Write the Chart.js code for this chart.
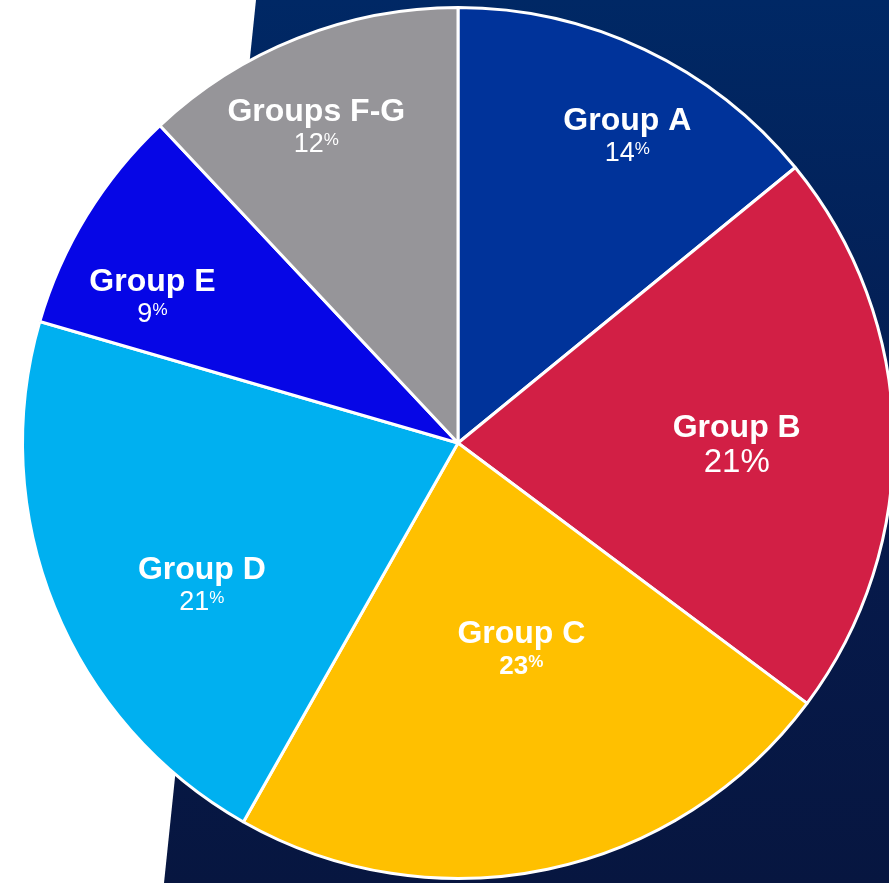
<!DOCTYPE html>
<html>
<head>
<meta charset="utf-8">
<script src="https://cdn.jsdelivr.net/npm/chart.js@4.4.1/dist/chart.umd.min.js"></script>
<style>
  html, body { margin: 0; padding: 0; width: 889px; height: 883px; overflow: hidden; background: #ffffff; }
  #bg {
    position: absolute; left: 0; top: 0; width: 889px; height: 883px;
    background: linear-gradient(to bottom, #002865 0%, #061a4c 60%, #071640 100%);
    clip-path: polygon(256px 0, 889px 0, 889px 883px, 164px 883px);
  }
  #wrap { position: absolute; left: 0; top: 0; width: 916px; height: 886px; }
</style>
</head>
<body>
<div id="bg"></div>
<div id="wrap"><canvas id="pieChart"></canvas></div>
<script>
  // 데이터 (그림에서 읽은 비율, 라벨은 반올림 표시)
  const groups = ["Group A", "Group B", "Group C", "Group D", "Group E", "Groups F-G"];
  const shares = [14.1, 21.1, 23.0, 21.3, 8.5, 12.0];
  const colors = ["#00339a", "#d21f45", "#ffc000", "#00b0f0", "#0606e6", "#969599"];

  // 라벨 위치/스타일 (반지름 비율, 각도 보정, 퍼센트 스타일)
  const labelStyle = [
    { r: 0.81, da: 3.3, size: 27, bold: false, sup: true },
    { r: 0.64, da: 0.8, size: 33, bold: false, sup: false },
    { r: 0.49, da: -5.4, size: 26, bold: true, sup: true },
    { r: 0.67, da: -6.5, size: 27, bold: false, sup: true },
    { r: 0.78, da: -5.6, size: 27, bold: false, sup: true },
    { r: 0.80, da: -2.4, size: 27, bold: false, sup: true }
  ];

  const FONT = "'Liberation Sans', Arial, sans-serif";

  const sliceLabels = {
    id: "sliceLabels",
    afterDatasetsDraw(chart) {
      const ctx = chart.ctx;
      const meta = chart.getDatasetMeta(0);
      meta.data.forEach((arc, i) => {
        const st = labelStyle[i];
        const mid = (arc.startAngle + arc.endAngle) / 2 + st.da * Math.PI / 180;
        const rr = arc.outerRadius * st.r;
        const x = arc.x + Math.cos(mid) * rr;
        const y = arc.y + Math.sin(mid) * rr;
        ctx.save();
        ctx.fillStyle = "#ffffff";
        ctx.textBaseline = "alphabetic";
        // 이름
        ctx.font = "bold 32px " + FONT;
        ctx.textAlign = "center";
        const nameBase = y - 4;
        ctx.fillText(groups[i], x, nameBase);
        // 퍼센트
        const num = String(Math.round(shares[i]));
        const numFont = (st.bold ? "bold " : "") + st.size + "px " + FONT;
        const pBase = nameBase + (st.sup ? 31 : 35);
        ctx.textAlign = "left";
        if (st.sup) {
          const supFont = (st.bold ? "bold " : "") + "17px " + FONT;
          ctx.font = numFont;
          const w1 = ctx.measureText(num).width;
          ctx.font = supFont;
          const w2 = ctx.measureText("%").width;
          const x0 = x - (w1 + w2) / 2;
          ctx.font = numFont;
          ctx.fillText(num, x0, pBase);
          ctx.font = supFont;
          ctx.fillText("%", x0 + w1, pBase - 7);
        } else {
          ctx.font = numFont;
          ctx.textAlign = "center";
          ctx.fillText(num + "%", x, pBase);
        }
        ctx.restore();
      });
    }
  };

  new Chart(document.getElementById("pieChart"), {
    type: "pie",
    data: {
      labels: groups,
      datasets: [{
        data: shares,
        backgroundColor: colors,
        borderColor: "#ffffff",
        borderWidth: 3
      }]
    },
    options: {
      responsive: true,
      maintainAspectRatio: false,
      animation: false,
      layout: { padding: 6 },
      plugins: {
        legend: { display: false },
        tooltip: { enabled: false }
      }
    },
    plugins: [sliceLabels]
  });
</script>
</body>
</html>
